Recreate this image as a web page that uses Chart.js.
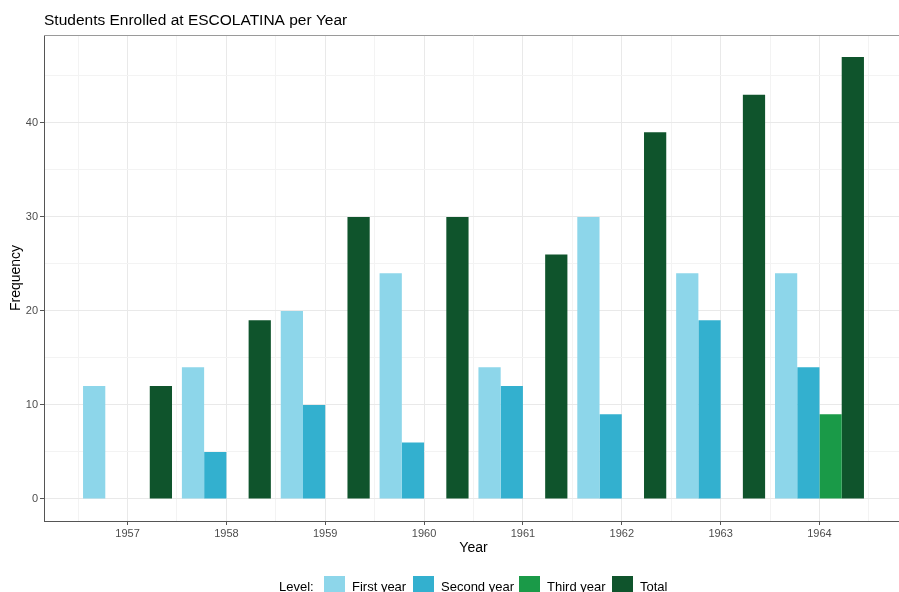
<!DOCTYPE html>
<html>
<head>
<meta charset="utf-8">
<title>Students Enrolled at ESCOLATINA per Year</title>
<script src="https://cdn.jsdelivr.net/npm/chart.js@4"></script>
<style>
  html, body { margin: 0; padding: 0; background: #fff; overflow: hidden; }
  #wrap { width: 910px; height: 592px; position: relative; }
</style>
</head>
<body>
<div id="wrap"><canvas id="myChart"></canvas></div>
<script>
// dados
const years = [1957, 1958, 1959, 1960, 1961, 1962, 1963, 1964];
const firstYear = [12, 14, 20, 24, 14, 30, 24, 24];
const secondYear = [null, 5, 10, 6, 12, 9, 19, 14];
const thirdYear = [null, null, null, null, null, null, null, 9];
const total = [12, 19, 30, 30, 26, 39, 43, 47];
const levelNames = ['First year', 'Second year', 'Third year', 'Total'];
const levelColors = ['#8dd6ea', '#33b0cf', '#1a9a48', '#0f542c'];
const xTicks = [1956.5, 1957, 1957.5, 1958, 1958.5, 1959, 1959.5, 1960, 1960.5,
  1961, 1961.5, 1962, 1962.5, 1963, 1963.5, 1964, 1964.5];
const yTicks = [0, 5, 10, 15, 20, 25, 30, 35, 40, 45];

const FONT = '"Liberation Sans", Arial, sans-serif';

function toPoints(values) {
  return years.map((y, i) => ({ x: y, y: values[i] }));
}

// o "ruler" do Chart.js usa também os ticks de meio ano (espaço = 0.5),
// então 1.8 * 0.5 ano = 0.9 ano de largura para o grupo de barras
const seriesValues = [firstYear, secondYear, thirdYear, total];
const datasets = seriesValues.map((vals, i) => ({
  label: levelNames[i],
  data: toPoints(vals),
  backgroundColor: levelColors[i],
  borderWidth: 0,
  categoryPercentage: 1.8,
  barPercentage: 1.0
}));

// desenha título, títulos dos eixos, borda superior e legenda
const decorations = {
  id: 'decorations',
  afterDraw(chart) {
    const ctx = chart.ctx;
    const area = chart.chartArea;
    ctx.save();

    // borda superior do painel
    ctx.strokeStyle = '#9a9a9a';
    ctx.lineWidth = 1;
    ctx.beginPath();
    ctx.moveTo(area.left, area.top + 0.5);
    ctx.lineTo(area.right, area.top + 0.5);
    ctx.stroke();

    ctx.fillStyle = '#000';
    ctx.textBaseline = 'alphabetic';

    // título
    ctx.font = '15.5px ' + FONT;
    ctx.textAlign = 'left';
    ctx.fillText('Students Enrolled at ESCOLATINA per Year', 44, 25);

    // título do eixo x
    ctx.font = '14px ' + FONT;
    ctx.textAlign = 'center';
    ctx.fillText('Year', (area.left + area.right) / 2, 552);

    // título do eixo y
    ctx.save();
    ctx.translate(20, (area.top + area.bottom) / 2);
    ctx.rotate(-Math.PI / 2);
    ctx.fillText('Frequency', 0, 0);
    ctx.restore();

    // legenda
    ctx.font = '13px ' + FONT;
    ctx.textAlign = 'left';
    ctx.fillText('Level:', 279, 591);
    const keyX = [324, 413, 519, 612];
    levelNames.forEach((name, i) => {
      ctx.fillStyle = levelColors[i];
      ctx.fillRect(keyX[i], 576, 21, 21);
      ctx.fillStyle = '#000';
      ctx.fillText(name, keyX[i] + 28, 591);
    });

    ctx.restore();
  }
};

const ctx = document.getElementById('myChart').getContext('2d');
window.myChart = new Chart(ctx, {
  type: 'bar',
  data: { datasets: datasets },
  plugins: [decorations],
  options: {
    responsive: true,
    maintainAspectRatio: false,
    animation: false,
    layout: { padding: { left: 0, top: 35, right: 7, bottom: 41 } },
    plugins: {
      legend: { display: false },
      title: { display: false },
      tooltip: { enabled: false }
    },
    scales: {
      x: {
        type: 'linear',
        offset: false,
        min: 1956.155,
        max: 1964.845,
        afterBuildTicks(scale) {
          scale.ticks = xTicks.map(v => ({ value: v }));
        },
        afterFit(scale) { scale.height = 30; },
        ticks: {
          autoSkip: false,
          maxRotation: 0,
          padding: 2,
          color: '#4d4d4d',
          font: { family: FONT, size: 11 },
          callback: v => Number.isInteger(v) ? String(v) : ''
        },
        grid: {
          offset: false,
          color: c => (c.tick && Number.isInteger(c.tick.value)) ? '#e9e9e9' : '#f3f3f3',
          lineWidth: 1,
          tickLength: 4,
          tickColor: c => (c.tick && Number.isInteger(c.tick.value)) ? '#555' : 'rgba(0,0,0,0)'
        },
        border: { color: '#555', width: 1 }
      },
      y: {
        min: -2.35,
        max: 49.35,
        afterBuildTicks(scale) {
          scale.ticks = yTicks.map(v => ({ value: v }));
        },
        afterFit(scale) { scale.width = 44; },
        ticks: {
          padding: 2,
          color: '#4d4d4d',
          font: { family: FONT, size: 11 },
          callback: v => v % 10 === 0 ? String(v) : ''
        },
        grid: {
          color: c => (c.tick && c.tick.value % 10 === 0) ? '#e9e9e9' : '#f3f3f3',
          lineWidth: 1,
          tickLength: 4,
          tickColor: c => (c.tick && c.tick.value % 10 === 0) ? '#555' : 'rgba(0,0,0,0)'
        },
        border: { color: '#555', width: 1 }
      }
    }
  }
});
</script>
</body>
</html>
